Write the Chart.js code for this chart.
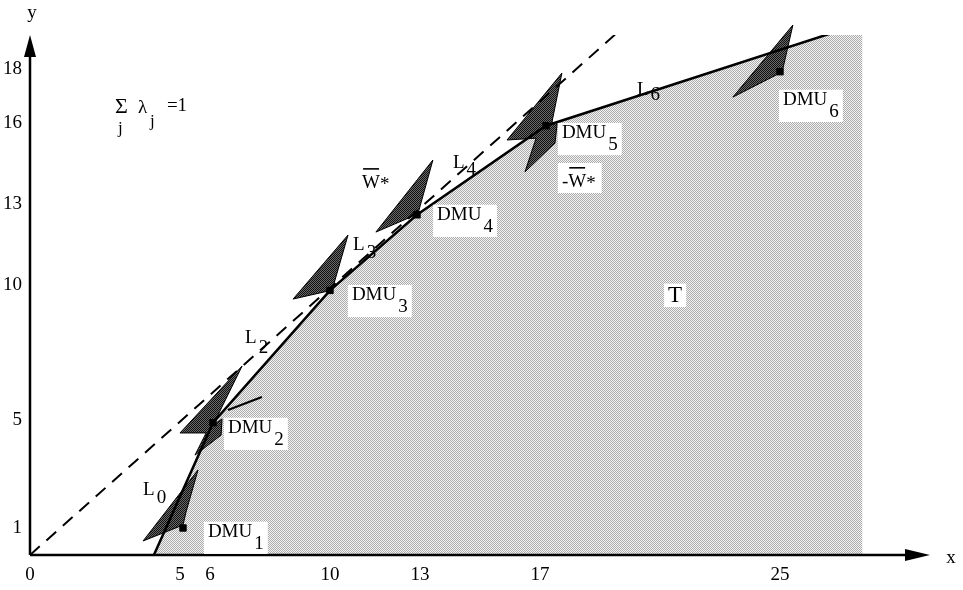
<!DOCTYPE html>
<html>
<head>
<meta charset="utf-8">
<script src="https://cdn.jsdelivr.net/npm/chart.js@4/dist/chart.umd.min.js"></script>
<style>
  html, body { margin: 0; padding: 0; background: #fff; }
</style>
</head>
<body>
<canvas id="frontierChart" width="963" height="590"></canvas>
<script>
// Values
const xTicks = [0, 5, 6, 10, 13, 17, 25];
const yTicks = [1, 5, 10, 13, 16, 18];

const dmuNames = ['1', '2', '3', '4', '5', '6'];
const dmuX = [5.1, 6.1, 10, 12.9, 17.2, 25];
const dmuY = [1.0, 4.9, 9.8, 12.6, 15.9, 17.9];

// frontier L0 ... L6
const frontierX = [4.13, 6.1, 10, 12.9, 17.2, 27.75];
const frontierY = [0, 4.9, 9.8, 12.6, 15.9, 19.7];

// dashed ray from the origin
const rayX = [0, 19.73];
const rayY = [0, 19.5];

// shaded W* cones drawn at each DMU
const coneDMU1 = [[3.77, 0.52], [5.6, 3.15], [5.2, 1.59], [5.1, 1.11]];
const coneDMU2 = [[7.07, 7.0], [6.1, 4.81], [6.4, 5.04], [6.37, 4.44], [5.5, 3.7], [5.87, 4.52], [5.0, 4.52]];
const coneDMU3 = [[10.6, 11.85], [10.07, 9.81], [8.77, 9.48]];
const coneDMU4 = [[13.43, 14.63], [12.93, 12.63], [11.53, 11.96]];
const coneDMU5 = [[17.73, 17.85], [17.4, 16.04], [17.57, 15.96], [17.5, 15.26], [16.5, 14.19], [16.87, 15.44], [15.9, 15.37]];
const coneDMU6 = [[25.43, 19.63], [25.07, 17.89], [23.43, 16.96]];
const cones = [coneDMU1, coneDMU2, coneDMU3, coneDMU4, coneDMU5, coneDMU6];
const dmu2Stroke = [[6.6, 5.37], [7.73, 5.85]];

const FONT = '"Liberation Serif", "Times New Roman", serif';
Chart.defaults.font.family = FONT;
Chart.defaults.color = '#000';

function stipple(dark, light) {
    const c = document.createElement('canvas');
    c.width = 2; c.height = 2;
    const g = c.getContext('2d');
    g.fillStyle = light;
    g.fillRect(0, 0, 2, 2);
    g.fillStyle = dark;
    g.fillRect(0, 0, 1, 1);
    g.fillRect(1, 1, 1, 1);
    return g.createPattern(c, 'repeat');
}

const toPoints = (xs, ys) => xs.map((v, i) => ({ x: v, y: ys[i] }));

// text annotations (data coordinates of the left baseline)
const annotations = [
    { text: 'DMU', sub: dmuNames[0], x: 5.93, y: 0.67, box: true },
    { text: 'DMU', sub: dmuNames[1], x: 6.6, y: 4.52, box: true },
    { text: 'DMU', sub: dmuNames[2], x: 10.73, y: 9.44, box: true },
    { text: 'DMU', sub: dmuNames[3], x: 13.57, y: 12.41, box: true },
    { text: 'DMU', sub: dmuNames[4], x: 17.73, y: 15.44, box: true },
    { text: 'DMU', sub: dmuNames[5], x: 25.1, y: 16.67, box: true },
    { text: 'L', sub: '0', x: 3.77, y: 2.22, drop: 8 },
    { text: 'L', sub: '2', x: 7.17, y: 7.85, drop: 10 },
    { text: 'L', sub: '3', x: 10.77, y: 11.3, drop: 8 },
    { text: 'L', sub: '4', x: 14.1, y: 14.33, drop: 7 },
    { text: 'L', sub: '6', x: 20.23, y: 17.04, drop: 5 },
    { text: 'T', x: 21.27, y: 9.37, size: 23, box: true }
];

const conePlugin = {
    id: 'cones',
    beforeDatasetDraw(chart, args) {
        if (args.index !== 1) return; // under the dashed ray and the frontier
        const { ctx, scales: { x, y } } = chart;
        ctx.save();
        ctx.fillStyle = stipple('#111', '#6a6a6a');
        ctx.strokeStyle = '#000';
        ctx.lineWidth = 1;
        cones.forEach(poly => {
            ctx.beginPath();
            poly.forEach(([vx, vy], i) => {
                const px = x.getPixelForValue(vx), py = y.getPixelForValue(vy);
                if (i === 0) ctx.moveTo(px, py); else ctx.lineTo(px, py);
            });
            ctx.closePath();
            ctx.fill();
            ctx.stroke();
        });
        ctx.lineWidth = 2;
        ctx.beginPath();
        ctx.moveTo(x.getPixelForValue(dmu2Stroke[0][0]), y.getPixelForValue(dmu2Stroke[0][1]));
        ctx.lineTo(x.getPixelForValue(dmu2Stroke[1][0]), y.getPixelForValue(dmu2Stroke[1][1]));
        ctx.stroke();
        ctx.restore();
    }
};

const axesPlugin = {
    id: 'axesAndText',
    afterDatasetsDraw(chart) {
        const { ctx, chartArea: a, scales: { x, y } } = chart;
        const x0 = x.getPixelForValue(0), y0 = y.getPixelForValue(0);
        ctx.save();
        // axes with arrow heads
        ctx.strokeStyle = '#000';
        ctx.fillStyle = '#000';
        ctx.lineWidth = 2.5;
        ctx.beginPath();
        ctx.moveTo(x0, y0);
        ctx.lineTo(x0, a.top + 10);
        ctx.moveTo(x0, y0);
        ctx.lineTo(a.right - 10, y0);
        ctx.stroke();
        ctx.beginPath();
        ctx.moveTo(x0, a.top);
        ctx.lineTo(x0 - 6, a.top + 22);
        ctx.lineTo(x0 + 6, a.top + 22);
        ctx.closePath();
        ctx.fill();
        ctx.beginPath();
        ctx.moveTo(a.right, y0);
        ctx.lineTo(a.right - 25, y0 - 6);
        ctx.lineTo(a.right - 25, y0 + 6);
        ctx.closePath();
        ctx.fill();

        ctx.textBaseline = 'alphabetic';
        ctx.font = '19px ' + FONT;
        ctx.textAlign = 'center';
        ctx.fillText('y', x0 + 2, a.top - 17);
        ctx.fillText('x', a.right + 21, y0 + 8);
        ctx.textAlign = 'left';

        // DMU and L labels
        annotations.forEach(lb => {
            const size = lb.size || 19;
            const px = x.getPixelForValue(lb.x), py = y.getPixelForValue(lb.y);
            ctx.font = size + 'px ' + FONT;
            const w = ctx.measureText(lb.text).width;
            const sw = lb.sub ? ctx.measureText(lb.sub).width + 2 : 0;
            const drop = lb.drop !== undefined ? lb.drop : 12;
            if (lb.box) {
                ctx.fillStyle = '#fff';
                ctx.fillRect(px - 4, py - size * 0.8, w + sw + 8, size * 0.8 + (lb.sub ? drop + 5 : 5));
            }
            ctx.fillStyle = '#000';
            ctx.fillText(lb.text, px, py);
            if (lb.sub) ctx.fillText(lb.sub, px + w + 2, py + drop);
        });

        // W* labels with overline
        const wStar = (vx, vy, minus) => {
            let px = x.getPixelForValue(vx);
            const py = y.getPixelForValue(vy);
            ctx.font = '19px ' + FONT;
            if (minus) {
                const total = ctx.measureText('-W*').width;
                ctx.fillStyle = '#fff';
                ctx.fillRect(px - 4, py - 24, total + 10, 30);
                ctx.fillStyle = '#000';
                ctx.fillText('-', px, py);
                px += ctx.measureText('-').width;
            }
            const ww = ctx.measureText('W').width;
            ctx.fillText('W', px, py);
            ctx.fillText('*', px + ww, py + 2);
            ctx.fillRect(px + 1, py - 20, ww - 2, 1.6);
        };
        wStar(11.07, 13.59, false);
        wStar(17.73, 13.63, true);

        // sum of lambda_j = 1
        const fx = x.getPixelForValue(2.83), fy = y.getPixelForValue(16.37);
        ctx.font = '22px ' + FONT;
        ctx.fillText('\u03A3', fx, fy);
        ctx.font = '19px ' + FONT;
        ctx.fillText('\u03BB', fx + 23, fy);
        ctx.fillText('=1', fx + 52, fy - 2);
        ctx.font = '17px ' + FONT;
        ctx.fillText('j', fx + 3, fy + 20);
        ctx.fillText('j', fx + 35, fy + 13);
        ctx.restore();
    }
};

new Chart(document.getElementById('frontierChart'), {
    type: 'line',
    data: {
        datasets: [
            {
                label: 'Frontier',
                data: toPoints(frontierX, frontierY),
                borderColor: '#000',
                borderWidth: 2.5,
                pointRadius: 0,
                fill: false,
                order: 2
            },
            {
                label: 'Ray',
                data: toPoints(rayX, rayY),
                borderColor: '#000',
                borderWidth: 2,
                borderDash: [13, 9],
                pointRadius: 0,
                fill: false,
                order: 3
            },
            {
                label: 'DMU',
                data: toPoints(dmuX, dmuY),
                showLine: false,
                pointStyle: 'rect',
                pointRadius: 4.5,
                pointBackgroundColor: '#000',
                pointBorderColor: '#000',
                order: 1
            },
            {
                label: 'T',
                data: toPoints(frontierX, frontierY),
                borderWidth: 0,
                pointRadius: 0,
                backgroundColor: stipple('#ababab', '#f4f4f4'),
                fill: 'origin',
                order: 4
            }
        ]
    },
    options: {
        responsive: false,
        animation: false,
        devicePixelRatio: 1,
        layout: { padding: { top: 35, right: 33, left: 0, bottom: 0 } },
        plugins: {
            legend: { display: false },
            tooltip: { enabled: false }
        },
        scales: {
            x: {
                type: 'linear',
                min: 0,
                max: 30,
                afterBuildTicks: s => { s.ticks = xTicks.map(v => ({ value: v })); },
                afterFit: s => { s.height = 35; },
                grid: { display: false, drawTicks: false },
                border: { display: false },
                ticks: { autoSkip: false, maxRotation: 0, padding: 9, color: '#000', font: { size: 19 } }
            },
            y: {
                type: 'linear',
                min: 0,
                max: 19.26,
                afterBuildTicks: s => { s.ticks = yTicks.map(v => ({ value: v })); },
                afterFit: s => { s.width = 30; },
                grid: { display: false, drawTicks: false },
                border: { display: false },
                ticks: { autoSkip: false, padding: 8, color: '#000', font: { size: 19 } }
            }
        }
    },
    plugins: [conePlugin, axesPlugin]
});
</script>
</body>
</html>
